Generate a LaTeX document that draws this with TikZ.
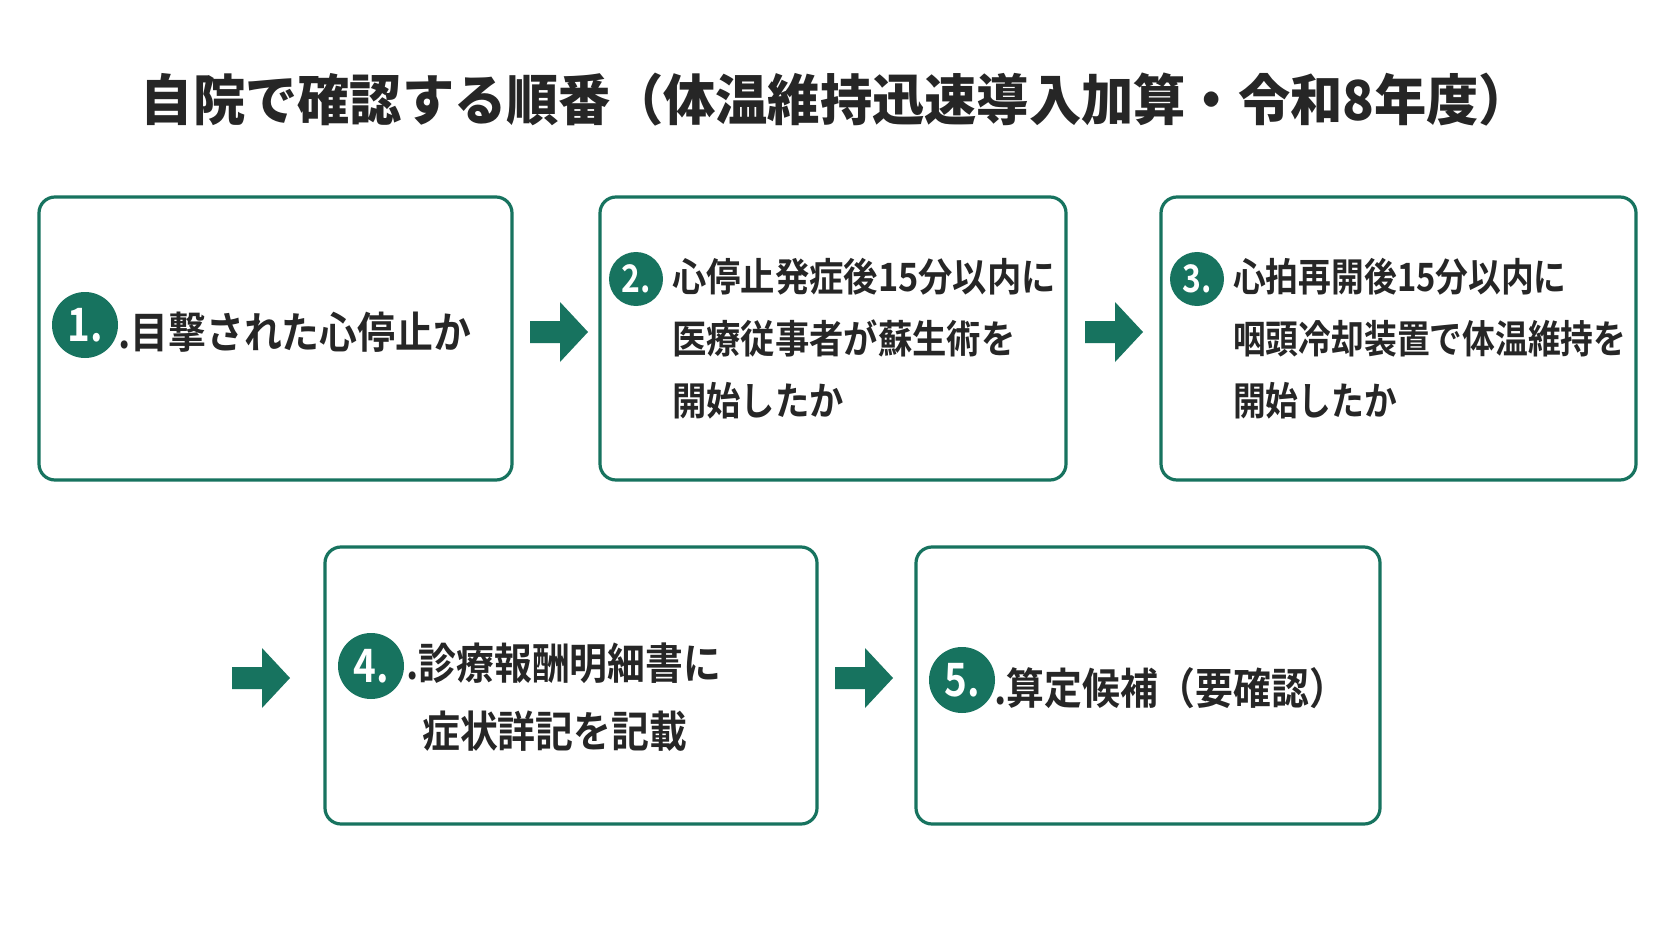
\documentclass[tikz,border=0pt]{standalone}
\usepackage{fontspec}
\newfontfamily\cjk[BoldFont={Noto Sans CJK JP Bold},BoldFeatures={FakeStretch=0.88}]{Noto Sans CJK JP}
\newfontfamily\cjkn[BoldFont={Noto Sans CJK JP Bold},BoldFeatures={FakeStretch=0.84}]{Noto Sans CJK JP}
\newfontfamily\cjkt[BoldFont={Noto Sans CJK JP Black},BoldFeatures={FakeStretch=0.95}]{Noto Sans CJK JP}
\definecolor{teal1}{HTML}{17735F}
\begin{document}
\begin{tikzpicture}[x=1pt,y=-1pt,
 box/.style={draw=teal1,line width=3.2pt,rounded corners=16pt,fill=white},
 num/.style={circle,fill=teal1,text=white,inner sep=0pt,font=\cjkn\bfseries\fontsize{46}{46}\selectfont},
 txt/.style={anchor=west,inner sep=0pt,font=\cjk\bfseries\fontsize{39}{40}\selectfont,text=black!85},
 big/.style={font=\cjk\bfseries\fontsize{43}{44}\selectfont},
 arr/.style={fill=teal1,draw=none}]
\useasboundingbox (0,0) rectangle (1672,941);
\fill[white] (0,0) rectangle (1672,941);
\node[font=\cjkt\bfseries\fontsize{55}{55}\selectfont,text=black!85] (title) at (836,100) {自院で確認する順番（体温維持迅速導入加算・令和8年度）};
\draw[box] (39,197) rectangle (512,480);
\draw[box] (600,197) rectangle (1066,480);
\draw[box] (1161,197) rectangle (1636,480);
\draw[box] (325,547) rectangle (817,824);
\draw[box] (916,547) rectangle (1380,824);
\node[num,minimum size=66pt] (n1) at (85,325) {1.};
\node[txt,big] (t1) at (118,332) {.目撃された心停止か};
\node[num,minimum size=54pt,font=\cjkn\bfseries\fontsize{38}{38}\selectfont] (n2) at (636,279) {2.};
\node[txt,align=left,anchor=north west] (t2) at (672,258) {心停止発症後15分以内に\\[22pt]医療従事者が蘇生術を\\[22pt]開始したか};
\node[num,minimum size=54pt,font=\cjkn\bfseries\fontsize{38}{38}\selectfont] (n3) at (1197,279) {3.};
\node[txt,align=left,anchor=north west,font=\cjkn\bfseries\fontsize{39}{40}\selectfont] (t3) at (1233,258) {心拍再開後15分以内に\\[22pt]咽頭冷却装置で体温維持を\\[22pt]開始したか};
\node[num,minimum size=66pt] (n4) at (371,666) {4.};
\node[txt,big,align=left,anchor=north west] (t4) at (406,643) {.診療報酬明細書に\\[24pt]\hspace*{16pt}症状詳記を記載};
\node[num,minimum size=66pt] (n5) at (962,680) {5.};
\node[txt,big] (t5) at (994,688) {.算定候補（要確認）};
\foreach \x/\y in {530/332,1085/332,232/678,835/678}{
 \fill[arr] (\x,\y-11) -- (\x+30,\y-11) -- (\x+30,\y-30) -- (\x+58,\y) -- (\x+30,\y+30) -- (\x+30,\y+11) -- (\x,\y+11) -- cycle;}
\end{tikzpicture}
\end{document}
